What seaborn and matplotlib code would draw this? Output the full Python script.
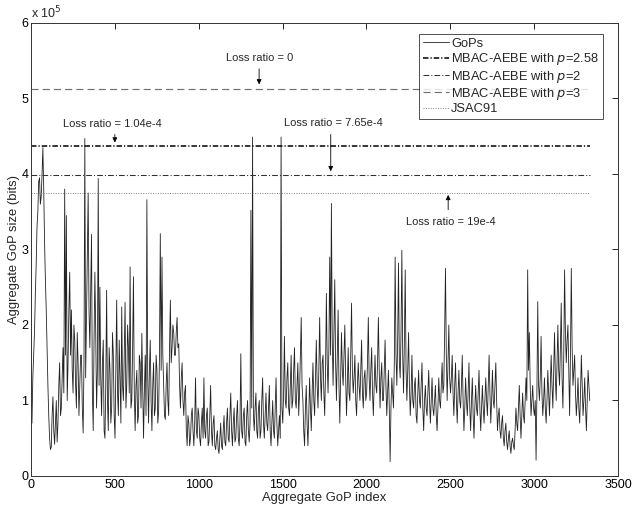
import numpy as np
import pandas as pd
import matplotlib
matplotlib.use("Agg")
import matplotlib.pyplot as plt
import seaborn as sns

# aggregate GoP size, in units of 1e5 bits, one value every 5 GoPs
gop_size = [
    0.8, 0.7, 1.3, 1.6, 1.9, 2.4, 2.8, 3.3, 3.5, 3.9, 3.95, 3.6, 3.7, 4.0, 4.35, 3.8, 3.1, 2.6, 2.2, 1.7,
    1.2, 0.8, 0.5, 0.35, 0.38, 0.8, 1.05, 0.6, 0.42, 0.7, 1.0, 0.45, 0.7, 1.2, 1.5, 0.8, 0.9, 1.3, 1.7, 1.1,
    3.8, 1.6, 3.45, 1.0, 1.5, 2.2, 2.7, 1.6, 2.2, 1.4, 1.1, 2.0, 1.8, 1.2, 0.9, 1.9, 1.5, 0.8, 1.2, 1.6,
    1.6, 0.9, 0.57, 1.5, 4.47, 1.3, 2.1, 2.9, 3.75, 2.2, 1.7, 2.5, 3.2, 1.1, 0.6, 1.8, 2.7, 1.9, 0.9, 1.4,
    3.94, 1.2, 2.5, 1.3, 0.8, 1.5, 1.8, 0.6, 0.5, 1.2, 2.46, 1.0, 0.6, 1.7, 1.4, 0.7, 0.9, 1.9, 1.6, 0.8,
    0.5, 1.4, 2.33, 1.1, 0.8, 1.8, 1.3, 0.7, 2.24, 1.2, 1.0, 1.6, 2.3, 0.9, 1.2, 2.0, 1.7, 1.1, 2.77, 0.9,
    1.0, 1.7, 2.64, 1.1, 0.6, 1.2, 1.4, 0.7, 0.8, 1.6, 1.5, 0.9, 1.89, 1.2, 0.5, 1.1, 1.6, 0.8, 3.66, 1.3,
    0.7, 1.4, 1.8, 1.0, 0.6, 1.2, 1.5, 0.8, 0.9, 1.6, 1.4, 0.7, 0.85, 1.6, 3.21, 1.4, 2.9, 1.6, 1.2, 0.8,
    0.75, 1.2, 1.5, 1.0, 0.8, 1.7, 2.33, 1.5, 1.7, 2.0, 1.9, 1.6, 1.6, 1.9, 2.1, 1.7, 1.75, 1.2, 0.9, 1.3,
    1.5, 1.0, 0.8, 1.1, 1.2, 0.6, 0.4, 0.8, 0.7, 0.4, 0.5, 0.8, 0.9, 0.6, 0.4, 0.7, 1.3, 0.6, 0.5, 0.9,
    0.8, 0.5, 0.4, 0.7, 0.9, 0.5, 1.3, 0.6, 0.5, 0.8, 0.9, 0.4, 0.45, 0.8, 1.2, 0.6, 0.4, 0.7, 0.8, 0.4,
    0.35, 0.5, 0.6, 0.35, 0.3, 0.5, 0.7, 0.4, 0.35, 0.6, 0.8, 0.45, 0.4, 0.7, 0.9, 0.5, 0.45, 0.8, 1.1, 0.6,
    0.4, 0.7, 0.9, 0.45, 0.5, 0.8, 1.0, 0.5, 0.4, 0.7, 1.62, 0.6, 0.5, 0.8, 0.9, 0.45, 0.4, 0.8, 1.0, 0.6,
    0.45, 0.7, 3.52, 0.9, 4.49, 0.8, 0.6, 0.9, 1.1, 0.6, 0.5, 0.9, 1.0, 0.5, 0.6, 1.0, 1.3, 0.7, 0.5, 0.8,
    1.1, 0.7, 0.6, 0.9, 1.2, 0.6, 0.4, 0.7, 1.0, 0.6, 0.5, 0.9, 1.3, 0.7, 0.4, 0.6, 0.8, 0.5, 4.49, 0.9,
    0.7, 1.1, 1.85, 1.0, 0.9, 1.3, 1.5, 0.9, 0.8, 1.2, 1.6, 0.9, 1.0, 1.4, 1.7, 1.0, 0.9, 1.2, 1.5, 0.8,
    1.1, 1.6, 2.1, 1.2, 1.0, 0.6, 0.4, 0.9, 1.2, 0.7, 0.4, 0.8, 1.3, 0.9, 0.6, 1.1, 1.5, 1.0, 0.8, 1.3,
    1.8, 1.2, 0.9, 1.4, 2.1, 1.3, 1.0, 1.5, 1.6, 1.1, 0.8, 1.4, 2.42, 1.5, 1.1, 1.7, 2.9, 1.6, 3.61, 1.8,
    1.2, 1.9, 2.6, 1.5, 1.0, 1.6, 2.2, 1.2, 0.7, 1.3, 1.9, 1.4, 1.2, 1.6, 2.0, 1.3, 0.8, 1.2, 1.7, 1.1,
    1.0, 1.6, 2.29, 1.4, 1.1, 1.3, 1.6, 1.0, 0.8, 1.2, 1.5, 1.2, 1.0, 1.4, 1.8, 1.1, 0.9, 1.3, 1.4, 1.0,
    1.1, 1.5, 2.1, 1.3, 1.0, 1.4, 1.7, 1.1, 0.8, 1.2, 1.6, 1.2, 1.1, 1.5, 2.1, 1.4, 0.9, 1.3, 1.5, 1.0,
    1.0, 1.4, 1.8, 1.2, 0.8, 1.1, 1.4, 0.9, 0.19, 0.9, 1.3, 1.1, 0.9, 1.5, 2.9, 1.6, 1.2, 1.8, 2.82, 1.5,
    1.3, 1.9, 2.99, 1.6, 1.1, 1.8, 2.73, 1.4, 1.0, 1.4, 1.9, 1.2, 0.8, 1.1, 1.6, 1.0, 0.9, 1.2, 1.3, 0.8,
    0.7, 1.1, 1.4, 1.0, 0.9, 1.2, 1.5, 0.9, 0.6, 1.0, 1.2, 0.9, 0.8, 1.1, 1.4, 1.0, 0.7, 1.0, 1.3, 0.9,
    0.8, 1.0, 1.2, 0.8, 0.6, 0.9, 1.3, 1.0, 0.9, 1.2, 1.5, 1.1, 1.2, 1.9, 2.75, 1.6, 1.0, 1.5, 2.0, 1.3,
    1.1, 1.3, 1.6, 1.1, 0.8, 1.2, 1.5, 1.0, 0.7, 1.1, 1.4, 1.0, 0.9, 1.2, 1.6, 1.0, 0.6, 0.9, 1.3, 1.0,
    0.8, 1.1, 1.5, 0.9, 0.6, 1.0, 1.3, 0.8, 0.5, 0.9, 1.2, 0.9, 0.8, 1.1, 1.4, 0.9, 0.6, 0.9, 1.2, 0.9,
    0.7, 1.0, 1.3, 1.0, 0.8, 1.2, 1.6, 1.1, 0.7, 1.0, 1.4, 1.0, 0.9, 1.2, 1.5, 1.0, 0.6, 0.8, 0.9, 0.6,
    0.5, 0.7, 0.8, 0.5, 0.4, 0.6, 0.7, 0.45, 0.35, 0.5, 0.6, 0.4, 0.3, 0.45, 0.5, 0.4, 0.35, 0.6, 0.9, 0.7,
    0.6, 0.9, 1.2, 0.8, 0.5, 0.8, 1.1, 0.8, 0.7, 1.0, 1.3, 1.0, 2.73, 1.4, 1.9, 1.2, 0.8, 1.0, 1.2, 0.9,
    0.8, 1.0, 0.21, 1.1, 2.31, 1.2, 1.0, 1.3, 1.85, 1.1, 0.8, 1.0, 1.3, 0.9, 0.7, 1.0, 1.4, 1.1, 0.8, 1.2,
    1.6, 1.2, 0.9, 1.4, 1.9, 1.3, 1.0, 1.5, 2.0, 1.4, 1.2, 1.7, 2.29, 1.3, 0.9, 1.6, 2.73, 1.9, 1.5, 1.8,
    2.0, 1.4, 0.8, 1.6, 2.75, 1.7, 1.2, 1.4, 1.6, 1.1, 0.8, 1.0, 1.3, 0.9, 0.7, 1.1, 1.6, 1.2, 0.8, 1.0,
    1.3, 0.9, 0.6, 1.0, 1.4, 1.2, 1.0,
]
gop_step = 5

# reserved bandwidth levels (bits)
level_names = ["MBAC-AEBE with $p$=2.58", "MBAC-AEBE with $p$=2",
               "MBAC-AEBE with $p$=3", "JSAC91"]
level_values = [4.365e5, 3.985e5, 5.125e5, 3.745e5]

loss_labels = ["Loss ratio = 0", "Loss ratio = 1.04e-4",
               "Loss ratio = 7.65e-4", "Loss ratio = 19e-4"]

df = pd.DataFrame({
    "idx": np.arange(len(gop_size)) * gop_step + 1,
    "bits": np.array(gop_size) * 1e5,
})

sns.set_style("white")
plt.rcParams["font.family"] = ["Liberation Sans", "DejaVu Sans"]

fig = plt.figure(figsize=(6.32, 5.11), dpi=100)
ax = fig.add_axes([0.049, 0.0685, 0.929, 0.8865])

sns.lineplot(data=df, x="idx", y="bits", ax=ax, color="#222222", lw=0.6, label="GoPs")

x0, x1 = df["idx"].min(), df["idx"].max()
styles = [
    dict(color="black", lw=1.1, dashes=(3.6, 1.3, 0.8, 1.3)),
    dict(color="#303030", lw=0.75, dashes=(5.5, 2, 1, 2)),
    dict(color="#707070", lw=0.85, dashes=(6, 3.5)),
    dict(color="#808080", lw=0.7, dashes=(1, 1.5)),
]
for name, val, st in zip(level_names, level_values, styles):
    ax.plot([x0, x1], [val, val], label=name, **st)

# annotations
arrow = dict(arrowstyle="-|>", color="black", lw=0.6, mutation_scale=7)
fs = 8
ax.text(1365, 5.54e5, loss_labels[0], ha="center", va="center", fontsize=fs)
ax.annotate("", xy=(1360, 5.15e5), xytext=(1360, 5.43e5), arrowprops=arrow)
ax.text(483, 4.66e5, loss_labels[1], ha="center", va="center", fontsize=fs)
ax.annotate("", xy=(500, 4.38e5), xytext=(500, 4.56e5), arrowprops=arrow)
ax.text(1801, 4.68e5, loss_labels[2], ha="center", va="center", fontsize=fs)
ax.annotate("", xy=(1787, 4.0e5), xytext=(1787, 4.56e5), arrowprops=arrow)
ax.text(2504, 3.36e5, loss_labels[3], ha="center", va="center", fontsize=fs)
ax.annotate("", xy=(2487, 3.76e5), xytext=(2487, 3.49e5), arrowprops=arrow)

ax.set_xlim(0, 3500)
ax.set_ylim(0, 6e5)
ax.set_xticks(range(0, 3501, 500))
ax.set_yticks(np.arange(0, 6.01e5, 1e5))
ax.set_yticklabels([str(i) for i in range(7)])
ax.text(0, 1.004, r"x 10$^5$", transform=ax.transAxes, fontsize=9, va="bottom")
ax.tick_params(direction="in", length=4, width=0.6, top=True, right=True,
               labelsize=9, pad=2, colors="black")
for s in ax.spines.values():
    s.set_color("#333333")
    s.set_linewidth(0.7)
ax.set_xlabel("Aggregate GoP index", fontsize=9.4, labelpad=1)
ax.set_ylabel("Aggregate GoP size (bits)", fontsize=9.4, labelpad=1)

leg = ax.legend(loc="upper right", bbox_to_anchor=(0.9745, 0.9757), fontsize=9.3,
                frameon=True, fancybox=False, handlelength=2.0, handletextpad=0.2,
                borderpad=0.3, labelspacing=0.1, borderaxespad=0)
leg.get_frame().set_edgecolor("black")
leg.get_frame().set_linewidth(0.6)

fig.savefig("out.png", dpi=100)
